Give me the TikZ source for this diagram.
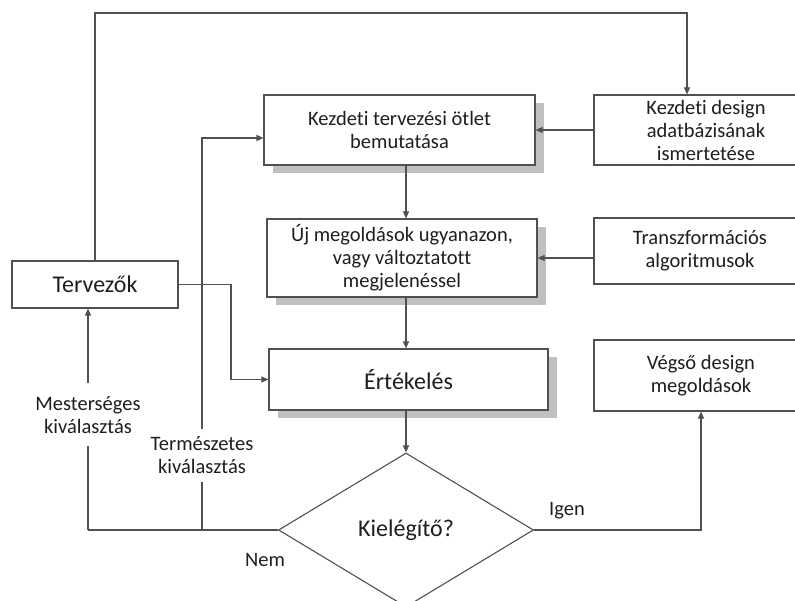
\documentclass[tikz,border=0pt]{standalone}
\usepackage{fontspec}
\setmainfont{Carlito}[Ligatures=NoCommon]
\usetikzlibrary{arrows.meta,positioning,shapes.geometric,shadows}
\definecolor{vonal}{HTML}{505050}
\definecolor{betu}{HTML}{1E1E1E}

\begin{document}
\begin{tikzpicture}[x=1pt,y=1pt,>={Triangle[length=7pt,width=6pt]}]
\useasboundingbox (0,0) rectangle (795,-601);
\clip (0,0) rectangle (795,-601);
\begin{scope}[every node/.style={draw=vonal,fill=white,text=betu,align=center,inner sep=0pt,line width=1.1pt,
                                  font=\fontsize{20.5}{23}\selectfont},
              arnyek/.style={drop shadow={shadow xshift=9pt,shadow yshift=-8pt,fill=black!25,opacity=1}},
              nagy/.style={font=\fontsize{24}{27}\selectfont}]
    \node[nagy,minimum width=166pt,minimum height=47pt] (tervezok) at (95,-284.5) {Tervezők};
    \node[arnyek,minimum width=271pt,minimum height=70pt] (otlet) at (399.5,-130) {Kezdeti tervezési ötlet\\bemutatása};
    \node[minimum width=224pt,minimum height=70pt] (adatbazis) at (706,-130) {Kezdeti design\\adatbázisának\\ismertetése};
    \node[arnyek,minimum width=270pt,minimum height=78pt] (uj) at (402,-258) {Új megoldások ugyanazon,\\vagy változtatott\\megjelenéssel};
    \node[minimum width=212pt,minimum height=66pt] (transz) at (700,-251) {Transzformációs\\algoritmusok};
    \node[arnyek,nagy,minimum width=279pt,minimum height=61pt] (ertekeles) at (408.5,-379.5) {Értékelés};
    \node[minimum width=214pt,minimum height=71pt] (vegso) at (701,-375.5) {Végső design\\megoldások};
    \node[nagy,diamond,aspect=1.66,minimum width=255pt,minimum height=154pt] (kielegito) at (406,-530) {Kielégítő?};
\end{scope}
\coordinate (felso) at (687,-13);
\coordinate (kanyar) at (231,-379.5);
\coordinate (mest) at (88,-530);
\coordinate (term) at (202,-530);
\begin{scope}[every path/.style={draw=vonal,line width=1.1pt},
              every node/.style={fill=white,text=betu,align=center,inner sep=2pt,font=\fontsize{20.5}{23}\selectfont}]
    \draw[->] (tervezok.north) |- (felso) -- (felso |- adatbazis.north);
    \draw[->] (adatbazis) -- (otlet);
    \draw[->] (transz.west |- uj.east) -- (uj.east);
    \draw[->] (otlet.south -| kielegito.north) -- (uj.north -| kielegito.north);
    \draw[->] (uj.south -| kielegito.north) -- (ertekeles.north -| kielegito.north);
    \draw[->] (ertekeles.south -| kielegito.north) -- (kielegito.north);
    \draw[->] (tervezok.east) -| (kanyar) -- (ertekeles.west);
    \draw (kielegito.west) -- (mest);
    \draw[->] (mest) -- node[pos=0.52,inner ysep=13pt] {Mesterséges\\kiválasztás} (mest |- tervezok.south);
    \draw[->] (term) -- node[pos=0.19,inner ysep=8pt] {Természetes\\kiválasztás} (term |- 0,-138) -- ([yshift=-8pt]otlet.west);
    \draw[->] (kielegito.east) -| (vegso.south);
    \node[fill=none] (nem) at (265,-560) {Nem};
    \node[fill=none] (igen) at (567,-511) {Igen};
\end{scope}
\end{tikzpicture}
\end{document}
